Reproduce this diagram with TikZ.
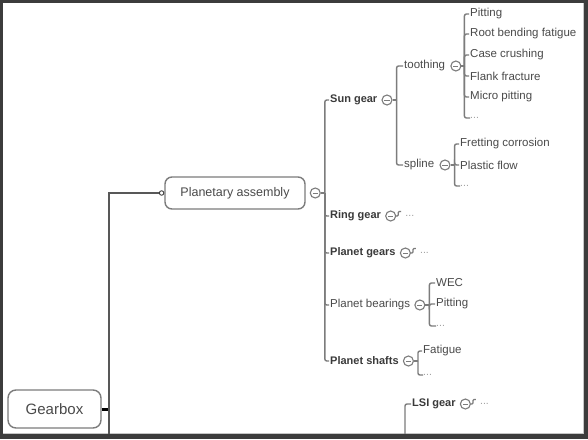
\documentclass[tikz,border=0pt]{standalone}
\usepackage{fontspec}
\setmainfont{Liberation Sans}
\usepackage{tikz}
\usetikzlibrary{positioning,calc}
\definecolor{frame}{HTML}{3C3C3C}
\definecolor{wire}{HTML}{7C7C7C}
\definecolor{ink}{HTML}{3A3A3A}
\definecolor{txt}{HTML}{4A4A4A}
\definecolor{faint}{HTML}{A0A0A0}
\tikzset{
  root/.style={draw=wire,line width=1.4pt,rounded corners=8pt,fill=white,text=txt,font=\fontsize{15}{18}\selectfont,minimum width=93pt,minimum height=38pt,inner sep=0pt},
  topic/.style={draw=wire,line width=1.4pt,rounded corners=7pt,fill=white,text=txt,font=\fontsize{12.5}{15}\selectfont,minimum width=140pt,minimum height=32pt,inner sep=0pt},
  sub/.style={anchor=west,inner sep=1pt,text=ink,font=\fontsize{11}{13}\selectfont\bfseries},
  plain/.style={anchor=west,inner sep=1pt,text=txt,font=\fontsize{11.5}{13}\selectfont},
  more/.style={inner sep=0pt,text=faint,font=\fontsize{10.5}{11}\selectfont},
  fold/.style={circle,draw=wire,line width=1.1pt,fill=white,minimum size=10pt,inner sep=0pt,
    path picture={\draw[wire,line width=1pt] ([xshift=-2.6pt]path picture bounding box.center) -- ([xshift=2.6pt]path picture bounding box.center);}},
  hook/.style={circle,draw=ink,line width=0.9pt,fill=white,minimum size=4.5pt,inner sep=0pt},
  tree/.style={draw=wire,line width=1.4pt,rounded corners=2pt},
  link/.style={draw=ink!85,line width=1.2pt},
  stub/.style={draw=wire,line width=1.2pt,rounded corners=1pt}
}

\begin{document}
\begin{tikzpicture}[x=1pt,y=-1pt]
  % frame of the screenshot
  \fill[frame] (0,0) rectangle (588,439);
  \fill[white] (3,3) rectangle (584,434);
  \draw[gray!45,line width=0.8pt] (583.4,3) -- (583.4,433.4) -- (3,433.4);
  \clip (3,3) rectangle (583,433);

  \node[root] (gearbox) at (54.5,409) {Gearbox};
  \node[topic] (planet) at (235,193) {Planetary assembly};
  \node[hook,left=0pt of planet] (phook) {};
  \node[fold,right=4pt of planet] (planetc) {};

  \node[sub] (sun) at (329,100) {Sun gear};
  \node[sub] (ring) at (329,216) {Ring gear};
  \node[sub] (pgears) at (329,253) {Planet gears};
  \node[plain] (pbear) at (329,305) {Planet bearings};
  \node[sub] (pshaft) at (329,361) {Planet shafts};
  \node[fold,right=3pt of sun] (sunc) {};
  \node[fold,right=3pt of ring] (ringc) {};
  \node[fold,right=3pt of pgears] (pgearsc) {};
  \node[fold,right=3pt of pbear] (pbearc) {};
  \node[fold,right=3pt of pshaft] (pshaftc) {};

  \node[plain] (tooth) at (403,66) {toothing};
  \node[plain] (spline) at (403,165) {spline};
  \node[fold,right=4pt of tooth] (toothc) {};
  \node[fold,right=4pt of spline] (splinec) {};

  \node[plain] (t1) at (469,14) {Pitting};
  \node[plain] (t2) at (469,34) {Root bending fatigue};
  \node[plain] (t3) at (469,55) {Case crushing};
  \node[plain] (t4) at (469,76) {Flank fracture};
  \node[plain] (t5) at (469,97) {Micro pitting};
  \node[more,anchor=west] (t6) at (470,118) {...};

  \node[plain] (s1) at (459,144) {Fretting corrosion};
  \node[plain] (s2) at (459,165) {Plastic flow};
  \node[more,anchor=west] (s3) at (460,186) {...};

  \node[plain] (b1) at (435,283) {WEC};
  \node[plain] (b2) at (435,304) {Pitting};
  \node[more,anchor=west] (b3) at (436,326) {...};

  \node[plain] (f1) at (422,351) {Fatigue};
  \node[more,anchor=west] (f2) at (423,375) {...};

  \node[more,right=9pt of ringc] (ringm) {...};
  \node[more,right=9pt of pgearsc] (pgearsm) {...};

  \node[sub] (lsi) at (411,404) {LSI gear};
  \node[fold,right=3pt of lsi] (lsic) {};
  \node[more,right=9pt of lsic] (lsim) {...};
  \node[sub] (lsis) at (411,440) {LSI shaft};
  \node[fold,right=3pt of lsis] (lsisc) {};

  % root link
  \coordinate (gdown) at (109,460);
  \draw[line width=3pt,black] (gearbox.east) -- ++(7,0);
  \draw[link] (gdown) |- (phook.west);

  % brackets
  \coordinate (pb) at ($(planetc.east)+(4,0)$);
  \draw[tree] (planetc.east) -- (pb);
  \foreach \n in {sun,ring,pgears,pbear,pshaft} \draw[tree] (pb) |- (\n.west);

  \coordinate (sb) at ($(sunc.east)+(4,0)$);
  \draw[tree] (sunc.east) -- (sb);
  \foreach \n in {tooth,spline} \draw[tree] (sb) |- (\n.west);

  \coordinate (tb) at ($(toothc.east)+(3,0)$);
  \draw[tree] (toothc.east) -- (tb);
  \foreach \n in {t1,t2,t3,t4,t5,t6} \draw[tree] (tb) |- (\n.west);

  \coordinate (spb) at ($(splinec.east)+(4,0)$);
  \draw[tree] (splinec.east) -- (spb);
  \foreach \n in {s1,s2,s3} \draw[tree] (spb) |- (\n.west);

  \coordinate (bb) at ($(pbearc.east)+(4,0)$);
  \draw[tree] (pbearc.east) -- (bb);
  \foreach \n in {b1,b2,b3} \draw[tree] (bb) |- (\n.west);

  \coordinate (fb) at ($(pshaftc.east)+(4,0)$);
  \draw[tree] (pshaftc.east) -- (fb);
  \foreach \n in {f1,f2} \draw[tree] (fb) |- (\n.west);

  \coordinate (lb) at (405,460);
  \foreach \n in {lsi,lsis} \draw[tree] (lb) |- (\n.west);

  % folded branches
  \foreach \n in {ringc,pgearsc,lsic,lsisc}
    \draw[stub] (\n.east) -- ++(2,0) -- ++(0,-4.5) -- ++(3,0);
\end{tikzpicture}
\end{document}
